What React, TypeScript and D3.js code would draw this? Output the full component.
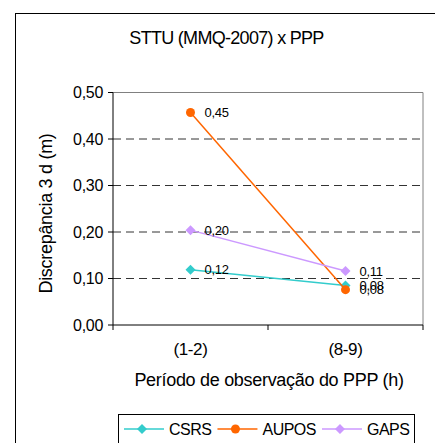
import React from "react";
import * as d3 from "d3";

const categories = ["(1-2)", "(8-9)"];
const csrs = [0.119, 0.085];
const aupos = [0.457, 0.076];
const gaps = [0.204, 0.116];
const csrsLabels = ["0,12", "0,08"];
const auposLabels = ["0,45", "0,08"];
const gapsLabels = ["0,20", "0,11"];
const yTicks = [0, 0.1, 0.2, 0.3, 0.4, 0.5];

const series = [
  { name: "CSRS", values: csrs, labels: csrsLabels, color: "#33CCCC", marker: "diamond" },
  { name: "AUPOS", values: aupos, labels: auposLabels, color: "#FF6600", marker: "circle" },
  { name: "GAPS", values: gaps, labels: gapsLabels, color: "#CC99FF", marker: "diamond" },
];

const FONT = "'Liberation Sans', Arial, sans-serif";

function measure(text: string, size: number, spacing: number): number {
  try {
    const ctx = document.createElement("canvas").getContext("2d")!;
    ctx.font = `${size}px 'Liberation Sans'`;
    return ctx.measureText(text).width + spacing * text.length;
  } catch (e) {
    return text.length * size * 0.6;
  }
}

function Marker({ type, x, y, color }: { type: string; x: number; y: number; color: string }) {
  if (type === "circle") return <circle cx={x} cy={y} r={4.5} fill={color} />;
  const s = 5;
  return <path d={`M${x},${y - s}L${x + s},${y}L${x},${y + s}L${x - s},${y}Z`} fill={color} />;
}

export default function App() {
  const W = 435, H = 443;
  const left = 113, right = 423, top = 92.5, bottom = 325;
  const x = d3.scaleBand().domain(categories).range([left, right]);
  const y = d3.scaleLinear().domain([0, 0.5]).range([bottom, top]);
  const fmt = (v: number) => v.toFixed(2).replace(".", ",");
  const cx = (i: number) => x(categories[i])! + x.bandwidth() / 2;
  const line = d3.line<number>().x((_, i) => cx(i)).y((d) => y(d));

  const legendSize = 16, legendSpacing = -0.5;
  let lx = 124;
  const legendItems = series.map((s) => {
    const item = { s, x: lx };
    lx += 45 + measure(s.name, legendSize, legendSpacing) + 6;
    return item;
  });

  return (
    <svg width={W} height={H} style={{ position: "absolute", left: 0, top: 0 }} fontFamily={FONT}>
      <rect x={0} y={0} width={W} height={H} fill="#fff" />
      <rect x={15.5} y={13.5} width={W + 10} height={H + 10} fill="#fff" stroke="#000" strokeWidth={1} />
      <text x={226.5} y={44} textAnchor="middle" fontSize={18} letterSpacing={-0.7}>
        STTU (MMQ-2007) x PPP
      </text>
      {/* plot border */}
      <path d={`M${left},${top}H${right}V${bottom}`} fill="none" stroke="#808080" strokeWidth={1} />
      {/* gridlines */}
      {yTicks.filter((t) => t > 0 && t < 0.5).map((t) => (
        <line key={t} x1={left} x2={right} y1={y(t)} y2={y(t)} stroke="#333" strokeDasharray="8,5" strokeWidth={1} />
      ))}
      {/* series */}
      {series.map((s) => (
        <g key={s.name}>
          <path d={line(s.values)!} fill="none" stroke={s.color} strokeWidth={1.5} />
          {s.values.map((v, i) => (
            <Marker key={i} type={s.marker} x={cx(i)} y={y(v)} color={s.color} />
          ))}
          {s.values.map((v, i) => (
            <text key={"l" + i} x={cx(i) + 14} y={y(v)} dy="0.35em" fontSize={13} letterSpacing={-0.3}>
              {s.labels[i]}
            </text>
          ))}
        </g>
      ))}
      {/* y axis */}
      <line x1={left} x2={left} y1={top} y2={bottom} stroke="#000" />
      {yTicks.map((t) => (
        <g key={t}>
          <line x1={left - 5} x2={left} y1={y(t)} y2={y(t)} stroke="#000" />
          <text x={left - 10} y={y(t)} dy="0.35em" textAnchor="end" fontSize={16} letterSpacing={-0.3}>
            {fmt(t)}
          </text>
        </g>
      ))}
      {/* x axis */}
      <line x1={left} x2={right} y1={bottom} y2={bottom} stroke="#000" />
      {[left, left + x.bandwidth(), right].map((px, i) => (
        <line key={i} x1={px} x2={px} y1={bottom} y2={bottom + 5} stroke="#000" />
      ))}
      {categories.map((c, i) => (
        <text key={c} x={cx(i)} y={355} textAnchor="middle" fontSize={17} letterSpacing={-0.4}>
          {c}
        </text>
      ))}
      <text x={269} y={386} textAnchor="middle" fontSize={18} letterSpacing={-0.3}>
        Período de observação do PPP (h)
      </text>
      <text transform={`translate(52,213.5) rotate(-90)`} textAnchor="middle" fontSize={18} letterSpacing={-0.3}>
        Discrepância 3 d (m)
      </text>
      {/* legend */}
      <rect x={118.5} y={414.5} width={296} height={40} fill="#fff" stroke="#000" />
      {legendItems.map(({ s, x: ix }) => {
        const ly = 429;
        return (
          <g key={s.name}>
            <line x1={ix} x2={ix + 40} y1={ly} y2={ly} stroke={s.color} strokeWidth={1.5} />
            <Marker type={s.marker} x={ix + 18} y={ly} color={s.color} />
            <text x={ix + 45} y={ly} dy="0.35em" fontSize={legendSize} letterSpacing={legendSpacing}>
              {s.name}
            </text>
          </g>
        );
      })}
    </svg>
  );
}
